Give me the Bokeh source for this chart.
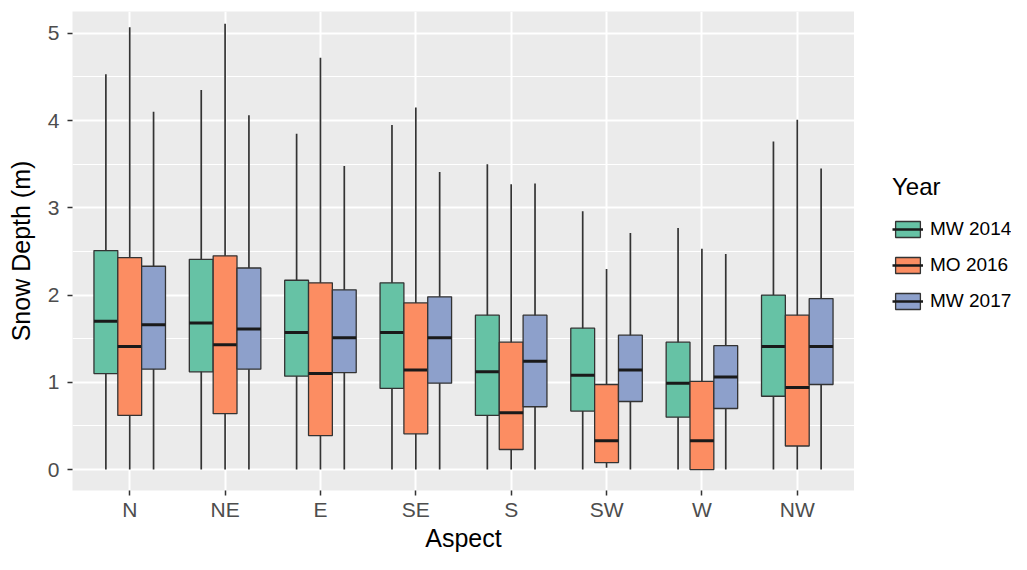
from bokeh.plotting import figure
from bokeh.layouts import row
from bokeh.models import (ColumnDataSource, Range1d, FixedTicker, Legend, LegendItem)
from bokeh.embed import file_html
from bokeh.resources import INLINE

# ---------------- data ----------------
aspects = ["N", "NE", "E", "SE", "S", "SW", "W", "NW"]
years = ["MW 2014", "MO 2016", "MW 2017"]
colors = ["#66C2A5", "#FC8D62", "#8DA0CB"]

mw2014_upper = [4.53, 4.35, 3.85, 3.95, 3.50, 2.96, 2.77, 3.76]
mw2014_q3 = [2.51, 2.41, 2.17, 2.14, 1.77, 1.62, 1.46, 2.00]
mw2014_med = [1.70, 1.68, 1.57, 1.57, 1.12, 1.08, 0.99, 1.41]
mw2014_q1 = [1.10, 1.12, 1.07, 0.93, 0.62, 0.67, 0.60, 0.84]
mw2014_lower = [0, 0, 0, 0, 0, 0, 0, 0]

mo2016_upper = [5.07, 5.11, 4.72, 4.15, 3.27, 2.30, 2.53, 4.01]
mo2016_q3 = [2.43, 2.45, 2.14, 1.91, 1.46, 0.975, 1.01, 1.77]
mo2016_med = [1.41, 1.43, 1.10, 1.14, 0.65, 0.33, 0.33, 0.94]
mo2016_q1 = [0.62, 0.64, 0.39, 0.41, 0.23, 0.08, 0.0, 0.27]
mo2016_lower = [0, 0, 0, 0, 0, 0.02, 0, 0]

mw2017_upper = [4.10, 4.06, 3.48, 3.41, 3.28, 2.71, 2.47, 3.45]
mw2017_q3 = [2.33, 2.31, 2.06, 1.98, 1.77, 1.54, 1.42, 1.96]
mw2017_med = [1.66, 1.61, 1.51, 1.51, 1.24, 1.14, 1.06, 1.41]
mw2017_q1 = [1.15, 1.15, 1.11, 0.99, 0.72, 0.78, 0.70, 0.975]
mw2017_lower = [0, 0, 0, 0, 0, 0, 0, 0]

series = [
    (mw2014_lower, mw2014_q1, mw2014_med, mw2014_q3, mw2014_upper),
    (mo2016_lower, mo2016_q1, mo2016_med, mo2016_q3, mo2016_upper),
    (mw2017_lower, mw2017_q1, mw2017_med, mw2017_q3, mw2017_upper),
]

FONT = "Liberation Sans"
box_w = 0.25
offsets = [-0.25, 0.0, 0.25]
NAN = float("nan")

p = figure(width=854, height=554, output_backend="svg", toolbar_location=None,
           x_range=Range1d(0.4, 8.6), y_range=Range1d(-0.24, 5.25),
           min_border_left=72, min_border_right=0, min_border_top=11,
           min_border_bottom=59)
p.background_fill_color = "#EBEBEB"
p.border_fill_color = "white"
p.outline_line_color = None

# grid
p.xgrid.ticker = FixedTicker(ticks=list(range(1, len(aspects) + 1)))
p.xgrid.grid_line_color = "white"
p.xgrid.grid_line_width = 2
p.ygrid.ticker = FixedTicker(ticks=[0, 1, 2, 3, 4, 5],
                             minor_ticks=[-0.5, 0.5, 1.5, 2.5, 3.5, 4.5, 5.5])
p.ygrid.grid_line_color = "white"
p.ygrid.grid_line_width = 2
p.ygrid.minor_grid_line_color = "white"
p.ygrid.minor_grid_line_width = 1

# axes
p.xaxis.ticker = FixedTicker(ticks=list(range(1, len(aspects) + 1)))
p.xaxis.major_label_overrides = {i + 1: a for i, a in enumerate(aspects)}
p.yaxis.ticker = FixedTicker(ticks=[0, 1, 2, 3, 4, 5])
for ax in (p.xaxis[0], p.yaxis[0]):
    ax.axis_line_color = None
    ax.major_tick_line_color = "#333333"
    ax.major_tick_line_width = 1.5
    ax.major_tick_out = 5
    ax.major_tick_in = 0
    ax.minor_tick_line_color = None
    ax.major_label_text_font = FONT
    ax.major_label_text_font_size = "21px"
    ax.major_label_text_color = "#4D4D4D"
    ax.axis_label_text_font = FONT
    ax.axis_label_text_font_size = "25px"
    ax.axis_label_text_font_style = "normal"
    ax.axis_label_text_color = "#000000"
p.xaxis.axis_label = "Aspect"
p.yaxis.axis_label = "Snow Depth (m)"
p.xaxis.major_label_standoff = 2
p.xaxis.axis_label_standoff = 0
p.yaxis.major_label_standoff = 8
p.yaxis.axis_label_standoff = 10

for k, (lo, q1, med, q3, up) in enumerate(series):
    xs = [i + 1 + offsets[k] for i in range(len(aspects))]
    src = ColumnDataSource(dict(x=xs, left=[x - box_w / 2 for x in xs],
                                right=[x + box_w / 2 for x in xs],
                                lo=lo, q1=q1, med=med, q3=q3, up=up))
    p.segment(x0="x", y0="lo", x1="x", y1="up", source=src,
              line_color="#333333", line_width=1.7)
    p.quad(left="left", right="right", bottom="q1", top="q3", source=src,
           fill_color=colors[k], line_color="#333333", line_width=1.3)
    p.segment(x0="left", y0="med", x1="right", y1="med", source=src,
              line_color="#1A1A1A", line_width=3)

# ---------------- legend panel ----------------
lg = figure(width=157, height=554, output_backend="svg", toolbar_location=None,
            x_range=Range1d(0, 1), y_range=Range1d(0, 1),
            min_border_left=0, min_border_right=0, min_border_top=0,
            min_border_bottom=0)
lg.axis.visible = False
lg.grid.visible = False
lg.outline_line_color = None
lg.background_fill_color = "white"

legend_items = []
for k in range(len(years)):
    key_src = ColumnDataSource(dict(left=[NAN], right=[NAN], bottom=[NAN],
                                    top=[NAN], x0=[NAN], y0=[NAN], x1=[NAN],
                                    y1=[NAN]))
    qr = lg.quad(left="left", right="right", bottom="bottom", top="top",
                 source=key_src, fill_color=colors[k], line_color="#333333",
                 line_width=1.3)
    mr = lg.segment(x0="x0", y0="y0", x1="x1", y1="y1", source=key_src,
                    line_color="#1A1A1A", line_width=2.5)
    legend_items.append(LegendItem(label=years[k], renderers=[qr, mr]))

legend = Legend(items=legend_items, location=(38, 178), title="Year")
legend.title_text_font = FONT
legend.title_text_font_size = "24px"
legend.title_text_font_style = "normal"
legend.title_text_color = "#000000"
legend.title_standoff = 17
legend.label_text_font = FONT
legend.label_text_font_size = "19px"
legend.label_text_color = "#000000"
legend.glyph_width = 31
legend.glyph_height = 20
legend.label_standoff = 7
legend.spacing = 14
legend.padding = 0
legend.margin = 0
legend.border_line_color = None
legend.background_fill_alpha = 0
legend.inactive_fill_alpha = 0
lg.add_layout(legend, "center")

layout = row(p, lg)
open("out.html", "w").write(file_html(layout, INLINE))
